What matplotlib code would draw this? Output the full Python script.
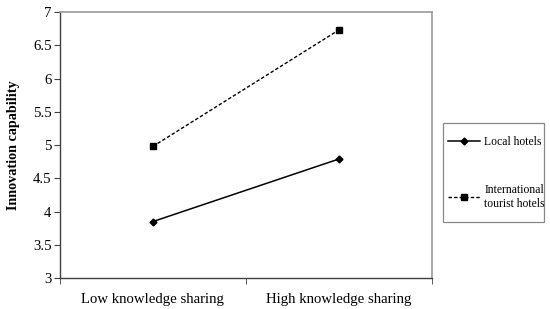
import matplotlib.pyplot as plt
from matplotlib.patches import Rectangle

plt.rcParams['font.family'] = ['Liberation Serif', 'DejaVu Serif']

# Data
categories = ["Low knowledge sharing", "High knowledge sharing"]
local_hotels = [3.85, 4.79]
intl_hotels = [4.98, 6.73]
yticks = [3, 3.5, 4, 4.5, 5, 5.5, 6, 6.5, 7]
ytick_labels = ["3", "3.5", "4", "4.5", "5", "5.5", "6", "6.5", "7"]

fig = plt.figure(figsize=(5.5, 3.09), dpi=100)
ax = fig.add_axes([0.109, 0.1, 0.676, 0.861])

x = list(range(len(categories)))
ax.plot(x, local_hotels, color="black", lw=1.1, marker="D", ms=3.5,
        label="Local hotels")
ax.plot(x, intl_hotels, color="black", lw=1.0, ls=(0, (2.5, 1.5)), marker="s", ms=5,
        label="International\ntourist hotels")

ax.set_xlim(-0.5, len(categories) - 0.5)
ax.set_ylim(3, 7)
ax.set_yticks(yticks)
ax.set_yticklabels(ytick_labels, fontsize=10.6)
ax.set_xticks(x)
ax.set_xticklabels(categories, fontsize=10.6)
ax.tick_params(axis="x", length=0, pad=11)
ax.set_xticks([-0.5, 0.5, 1.5], minor=True)
ax.tick_params(axis="x", which="minor", length=4, color="#404040")
ax.tick_params(axis="y", length=4, color="#404040", pad=2)

ax.set_ylabel("Innovation capability", fontsize=10.2, fontweight="bold", labelpad=9)

for side in ["left", "bottom"]:
    ax.spines[side].set_color("#404040")
    ax.spines[side].set_linewidth(1.0)
for side in ["top", "right"]:
    ax.spines[side].set_color("#999999")
    ax.spines[side].set_linewidth(1.2)

# legend box drawn separately so padding matches the reference
fig.patches.append(Rectangle((443 / 550, 1 - 222 / 309), 101 / 550, 99 / 309,
                             transform=fig.transFigure, fill=False,
                             edgecolor="#888888", lw=0.9))
leg = fig.legend(loc="upper left", bbox_to_anchor=(448 / 550, 1 - 136 / 309), fontsize=8.4,
                 frameon=False, labelspacing=3.1, handlelength=2.7, handletextpad=0.4,
                 borderpad=0, borderaxespad=0)

fig.savefig("out.png", dpi=100)
